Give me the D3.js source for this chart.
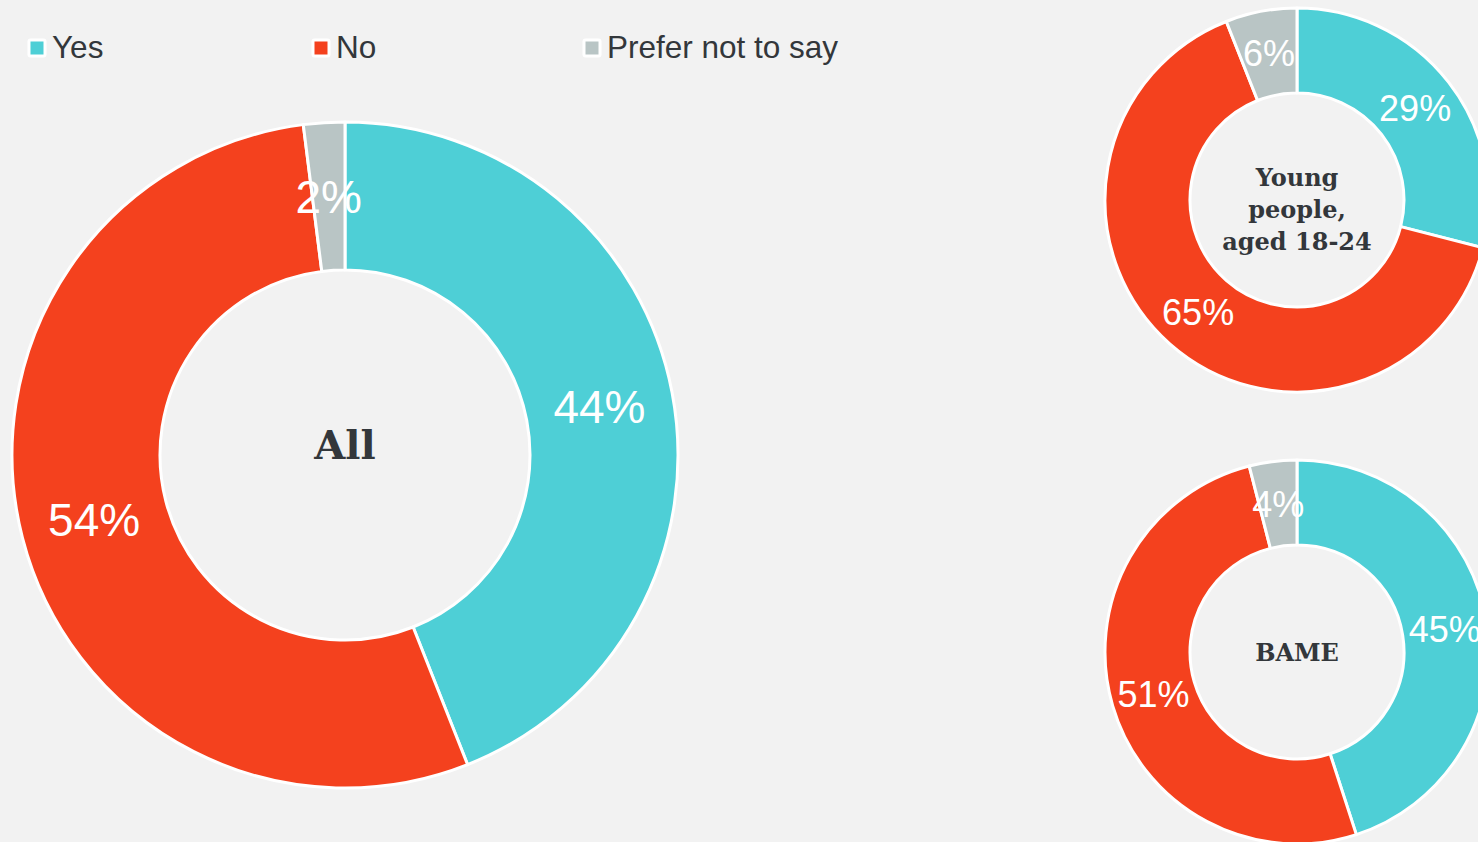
<!DOCTYPE html>
<meta charset="utf-8">
<script src="https://d3js.org/d3.v7.min.js"></script>
<style>
  body { margin: 0; background: #f2f2f2; }
  svg { display: block; }
  .legend text { font: 31.5px "Liberation Sans", Arial, sans-serif; fill: #33373b; }
  .pct { font-family: "Liberation Sans", Arial, sans-serif; fill: #fff; }
  .center { font-family: "DejaVu Serif", Georgia, serif; font-weight: bold; fill: #33373b; }
</style>
<div id="chart"></div>
<script>
// data
var categories = ["Yes", "No", "Prefer not to say"];
var colors = ["#4ecfd6", "#f4411e", "#b9c5c5"];
var groups = ["All", "Young people, aged 18-24", "BAME"];
var groupLines = [["All"], ["Young", "people,", "aged 18-24"], ["BAME"]];
var yesValues = [44, 29, 45];
var noValues = [54, 65, 51];
var preferValues = [2, 6, 4];

var width = 1478, height = 842;

var svg = d3.select("#chart").append("svg")
  .attr("width", width)
  .attr("height", height);

svg.append("rect").attr("width", width).attr("height", height).attr("fill", "#f2f2f2");

var color = d3.scaleOrdinal().domain(categories).range(colors);

// legend
var legendX = [27, 311, 582];
var legend = svg.append("g").attr("class", "legend")
  .selectAll("g")
  .data(categories)
  .enter().append("g")
    .attr("transform", function(d, i) { return "translate(" + legendX[i] + ",38)"; });

legend.append("rect")
  .attr("x", 0.5).attr("y", 0.5)
  .attr("width", 19).attr("height", 19)
  .attr("rx", 3)
  .attr("fill", "#fff");
legend.append("rect")
  .attr("x", 3.5).attr("y", 3.5)
  .attr("width", 13).attr("height", 13)
  .attr("fill", function(d) { return color(d); });
legend.append("text")
  .attr("x", 25)
  .attr("y", 20)
  .text(function(d) { return d; });

// one donut per group
var layout = [
  {cx: 345, cy: 455, outer: 333, inner: 185, pct: 46, label: 40, lineH: 0, shift: -10},
  {cx: 1297, cy: 200, outer: 192, inner: 107, pct: 36, label: 24, lineH: 32, shift: 9},
  {cx: 1297, cy: 652, outer: 192, inner: 107, pct: 36, label: 24, lineH: 32, shift: 0}
];

var pie = d3.pie().sort(null).value(function(d) { return d.value; });

groups.forEach(function(g, gi) {
  var rows = categories.map(function(c, ci) {
    return {cat: c, value: [yesValues, noValues, preferValues][ci][gi]};
  });
  var L = layout[gi];
  var arc = d3.arc().innerRadius(L.inner).outerRadius(L.outer);

  var donut = svg.append("g")
    .attr("transform", "translate(" + L.cx + "," + L.cy + ")");

  var arcs = pie(rows);

  donut.selectAll("path")
    .data(arcs)
    .enter().append("path")
      .attr("d", arc)
      .attr("fill", function(d) { return color(d.data.cat); })
      .attr("stroke", "#fff")
      .attr("stroke-width", 3)
      .attr("stroke-linejoin", "round");

  donut.selectAll("text.pct")
    .data(arcs)
    .enter().append("text")
      .attr("class", "pct")
      .attr("transform", function(d) { return "translate(" + arc.centroid(d) + ")"; })
      .attr("text-anchor", "middle")
      .attr("dy", "0.36em")
      .style("font-size", L.pct + "px")
      .text(function(d) { return d.data.value + "%"; });

  var lines = groupLines[gi];
  donut.append("text")
    .attr("class", "center")
    .attr("text-anchor", "middle")
    .style("font-size", L.label + "px")
    .selectAll("tspan")
    .data(lines)
    .enter().append("tspan")
      .attr("x", 0)
      .attr("y", function(d, i) { return L.shift + (i - (lines.length - 1) / 2) * L.lineH; })
      .attr("dy", "0.36em")
      .text(function(d) { return d; });
});
</script>
